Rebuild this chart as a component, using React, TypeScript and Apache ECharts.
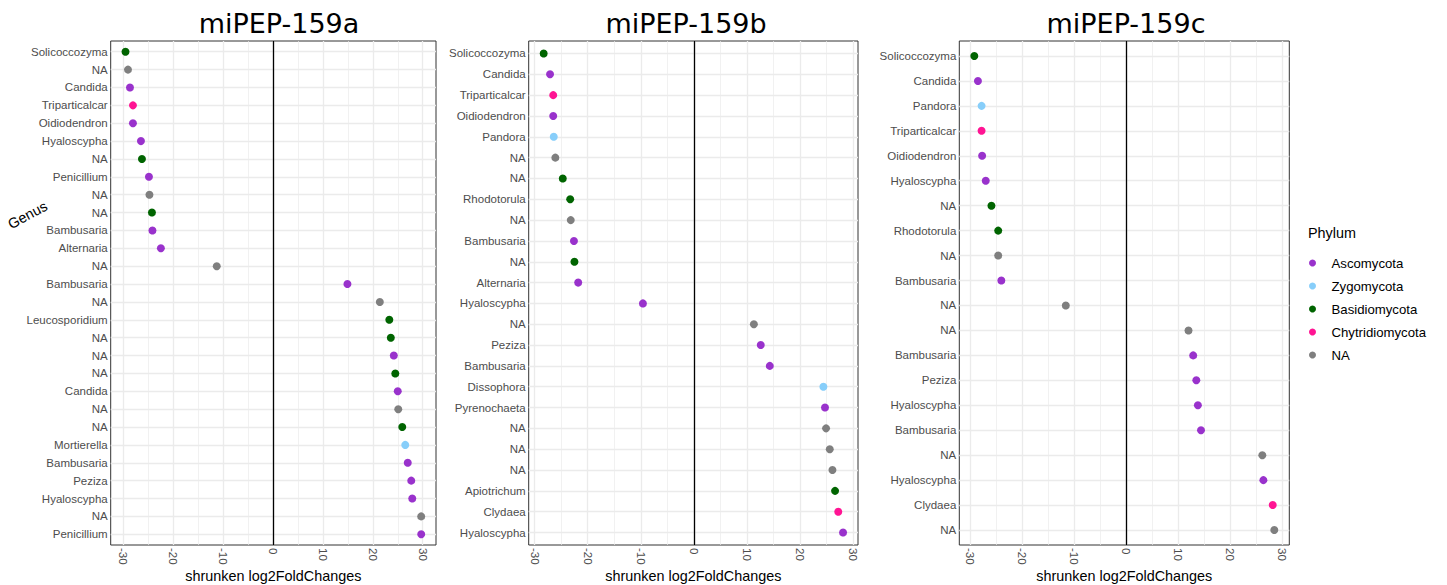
import React, { useEffect, useRef } from "react";
import * as echarts from "echarts";

// ---------- data ----------
const panelTitles = ["miPEP-159a", "miPEP-159b", "miPEP-159c"];
const xAxisTitle = "shrunken log2FoldChanges";
const phyla = ["Ascomycota", "Zygomycota", "Basidiomycota", "Chytridiomycota", "NA"];
const phylumColors = ["#9932CC", "#87CEFA", "#006400", "#FF1493", "#7F7F7F"];

const genusA = ["Solicoccozyma", "NA", "Candida", "Triparticalcar", "Oidiodendron", "Hyaloscypha", "NA", "Penicillium", "NA", "NA", "Bambusaria", "Alternaria", "NA", "Bambusaria", "NA", "Leucosporidium", "NA", "NA", "NA", "Candida", "NA", "NA", "Mortierella", "Bambusaria", "Peziza", "Hyaloscypha", "NA", "Penicillium"];
const lfcA = [-29.6, -29.1, -28.7, -28.1, -28.1, -26.5, -26.3, -24.9, -24.8, -24.3, -24.2, -22.5, -11.3, 14.9, 21.4, 23.3, 23.6, 24.2, 24.5, 25.0, 25.1, 25.9, 26.5, 27.0, 27.7, 27.9, 29.7, 29.7];
const phylumA = ["Basidiomycota", "NA", "Ascomycota", "Chytridiomycota", "Ascomycota", "Ascomycota", "Basidiomycota", "Ascomycota", "NA", "Basidiomycota", "Ascomycota", "Ascomycota", "NA", "Ascomycota", "NA", "Basidiomycota", "Basidiomycota", "Ascomycota", "Basidiomycota", "Ascomycota", "NA", "Basidiomycota", "Zygomycota", "Ascomycota", "Ascomycota", "Ascomycota", "NA", "Ascomycota"];

const genusB = ["Solicoccozyma", "Candida", "Triparticalcar", "Oidiodendron", "Pandora", "NA", "NA", "Rhodotorula", "NA", "Bambusaria", "NA", "Alternaria", "Hyaloscypha", "NA", "Peziza", "Bambusaria", "Dissophora", "Pyrenochaeta", "NA", "NA", "NA", "Apiotrichum", "Clydaea", "Hyaloscypha"];
const lfcB = [-28.3, -27.1, -26.5, -26.5, -26.4, -26.1, -24.7, -23.3, -23.2, -22.6, -22.5, -21.8, -9.6, 11.3, 12.6, 14.3, 24.4, 24.7, 24.9, 25.6, 26.1, 26.6, 27.2, 28.1];
const phylumB = ["Basidiomycota", "Ascomycota", "Chytridiomycota", "Ascomycota", "Zygomycota", "NA", "Basidiomycota", "Basidiomycota", "NA", "Ascomycota", "Basidiomycota", "Ascomycota", "Ascomycota", "NA", "Ascomycota", "Ascomycota", "Zygomycota", "Ascomycota", "NA", "NA", "NA", "Basidiomycota", "Chytridiomycota", "Ascomycota"];

const genusC = ["Solicoccozyma", "Candida", "Pandora", "Triparticalcar", "Oidiodendron", "Hyaloscypha", "NA", "Rhodotorula", "NA", "Bambusaria", "NA", "NA", "Bambusaria", "Peziza", "Hyaloscypha", "Bambusaria", "NA", "Hyaloscypha", "Clydaea", "NA"];
const lfcC = [-29.2, -28.5, -27.8, -27.8, -27.7, -27.0, -25.9, -24.6, -24.6, -24.0, -11.6, 12.0, 12.9, 13.5, 13.8, 14.4, 26.2, 26.4, 28.2, 28.5];
const phylumC = ["Basidiomycota", "Ascomycota", "Zygomycota", "Chytridiomycota", "Ascomycota", "Ascomycota", "Basidiomycota", "Basidiomycota", "NA", "Ascomycota", "NA", "NA", "Ascomycota", "Ascomycota", "Ascomycota", "Ascomycota", "NA", "Ascomycota", "Chytridiomycota", "NA"];

const xMajorTicks = [-30, -20, -10, 0, 10, 20, 30];
const xMinorBreaks = [-25, -15, -5, 5, 15, 25];

// ---------- layout ----------
const FONT = "'Liberation Sans', Arial, Helvetica, sans-serif";
const gridBoxes = [
  { left: 110.7, top: 41, width: 325.3, height: 504 },
  { left: 528.7, top: 41, width: 329.3, height: 504 },
  { left: 959.3, top: 41, width: 330, height: 504 },
];
const titleCenters = [279, 686, 1126];

const panels = [
  { genus: genusA, lfc: lfcA, phylum: phylumA },
  { genus: genusB, lfc: lfcB, phylum: phylumB },
  { genus: genusC, lfc: lfcC, phylum: phylumC },
];

function buildOption() {
  const grid: any[] = [];
  const xAxis: any[] = [];
  const yAxis: any[] = [];
  const series: any[] = [];
  const graphic: any[] = [];

  panels.forEach((p, i) => {
    const n = p.genus.length;
    const dmin = Math.min(...p.lfc);
    const dmax = Math.max(...p.lfc);
    const pad = 0.05 * (dmax - dmin);
    const idx = p.genus.map((_, k) => k);

    grid.push({
      ...gridBoxes[i],
      show: true,
      backgroundColor: "#FFFFFF",
      borderColor: "#333333",
      borderWidth: 1,
      containLabel: false,
      outerBoundsMode: "none",
    });

    xAxis.push({
      gridIndex: i,
      type: "value",
      min: dmin - pad,
      max: dmax + pad,
      axisLine: { show: false },
      axisTick: {
        show: true,
        customValues: xMajorTicks,
        length: 4,
        lineStyle: { color: "#333333", width: 1 },
      },
      axisLabel: {
        show: true,
        customValues: xMajorTicks,
        rotate: -90,
        margin: 3,
        color: "#4D4D4D",
        fontSize: 11.5,
        fontFamily: FONT,
      },
      splitLine: { show: false },
    });

    yAxis.push({
      gridIndex: i,
      type: "value",
      inverse: true,
      min: -0.6,
      max: n - 1 + 0.6,
      axisLine: { show: false },
      axisTick: {
        show: true,
        customValues: idx,
        length: 4,
        lineStyle: { color: "#333333", width: 1 },
      },
      axisLabel: {
        show: true,
        customValues: idx,
        margin: 3,
        color: "#4D4D4D",
        fontSize: 11.5,
        fontFamily: FONT,
        formatter: (v: number) => p.genus[Math.round(v)] ?? "",
      },
      splitLine: { show: false },
    });

    // grid lines (ggplot theme_bw style)
    const gridLines: any[] = [];
    idx.forEach((k) => gridLines.push({ yAxis: k, lineStyle: { color: "#EBEBEB", width: 1.3 } }));
    xMinorBreaks.forEach((v) => gridLines.push({ xAxis: v, lineStyle: { color: "#EBEBEB", width: 0.7 } }));
    xMajorTicks.forEach((v) => gridLines.push({ xAxis: v, lineStyle: { color: "#EBEBEB", width: 1.3 } }));
    series.push({
      type: "scatter",
      name: "__grid" + i,
      xAxisIndex: i,
      yAxisIndex: i,
      data: [],
      z: 1,
      silent: true,
      markLine: {
        z: 1,
        silent: true,
        symbol: ["none", "none"],
        label: { show: false },
        animation: false,
        lineStyle: { type: "solid" },
        data: gridLines,
      },
    });
    // vertical zero line
    series.push({
      type: "scatter",
      name: "__zero" + i,
      xAxisIndex: i,
      yAxisIndex: i,
      data: [],
      z: 2,
      silent: true,
      markLine: {
        z: 2,
        silent: true,
        symbol: ["none", "none"],
        label: { show: false },
        animation: false,
        lineStyle: { type: "solid", color: "#000000", width: 1.3 },
        data: [{ xAxis: 0 }],
      },
    });

    phyla.forEach((ph, j) => {
      const data: number[][] = [];
      p.lfc.forEach((v, k) => {
        if (p.phylum[k] === ph) data.push([v, k]);
      });
      series.push({
        type: "scatter",
        name: ph,
        xAxisIndex: i,
        yAxisIndex: i,
        data,
        symbol: "circle",
        symbolSize: 8,
        itemStyle: { color: phylumColors[j], opacity: 1 },
        z: 4,
      });
    });

    // axis title, centred under the panel
    graphic.push({
      type: "text",
      x: gridBoxes[i].left + gridBoxes[i].width / 2,
      y: 576,
      style: {
        text: xAxisTitle,
        fontSize: 14.4,
        fontFamily: FONT,
        fill: "#000000",
        textAlign: "center",
        textVerticalAlign: "middle",
      },
    });
  });

  panelTitles.forEach((t, i) => {
    graphic.push({
      type: "text",
      x: titleCenters[i],
      y: 23,
      style: {
        text: t,
        fontSize: 27,
        fontFamily: "'DejaVu Sans', sans-serif",
        fill: "#000000",
        textAlign: "center",
        textVerticalAlign: "middle",
      },
    });
  });
  graphic.push({
    type: "text",
    x: 27.5,
    y: 215,
    rotation: 0.49,
    style: {
      text: "Genus",
      fontSize: 14.4,
      fontFamily: FONT,
      fill: "#000000",
      textAlign: "center",
      textVerticalAlign: "middle",
    },
  });
  graphic.push({
    type: "text",
    x: 1308,
    y: 233,
    style: {
      text: "Phylum",
      fontSize: 14.4,
      fontFamily: FONT,
      fill: "#000000",
      textAlign: "left",
      textVerticalAlign: "middle",
    },
  });

  return {
    animation: false,
    backgroundColor: "#FFFFFF",
    grid,
    xAxis,
    yAxis,
    series,
    graphic,
    legend: {
      data: phyla.map((name, j) => ({ name, itemStyle: { color: phylumColors[j] } })),
      orient: "vertical",
      left: 1304,
      top: 250,
      icon: "circle",
      itemWidth: 28,
      itemHeight: 7,
      itemGap: 7,
      selectedMode: false,
      textStyle: { fontSize: 13.2, color: "#000000", fontFamily: FONT, lineHeight: 16 },
    },
  };
}

export default function App() {
  const ref = useRef<HTMLDivElement>(null);
  useEffect(() => {
    if (!ref.current) return;
    const chart = echarts.init(ref.current, undefined, { renderer: "svg" });
    chart.setOption(buildOption() as any);
    return () => chart.dispose();
  }, []);
  return (
    <div
      ref={ref}
      style={{ position: "fixed", left: 0, top: 0, width: 1447, height: 585, background: "#fff" }}
    />
  );
}
